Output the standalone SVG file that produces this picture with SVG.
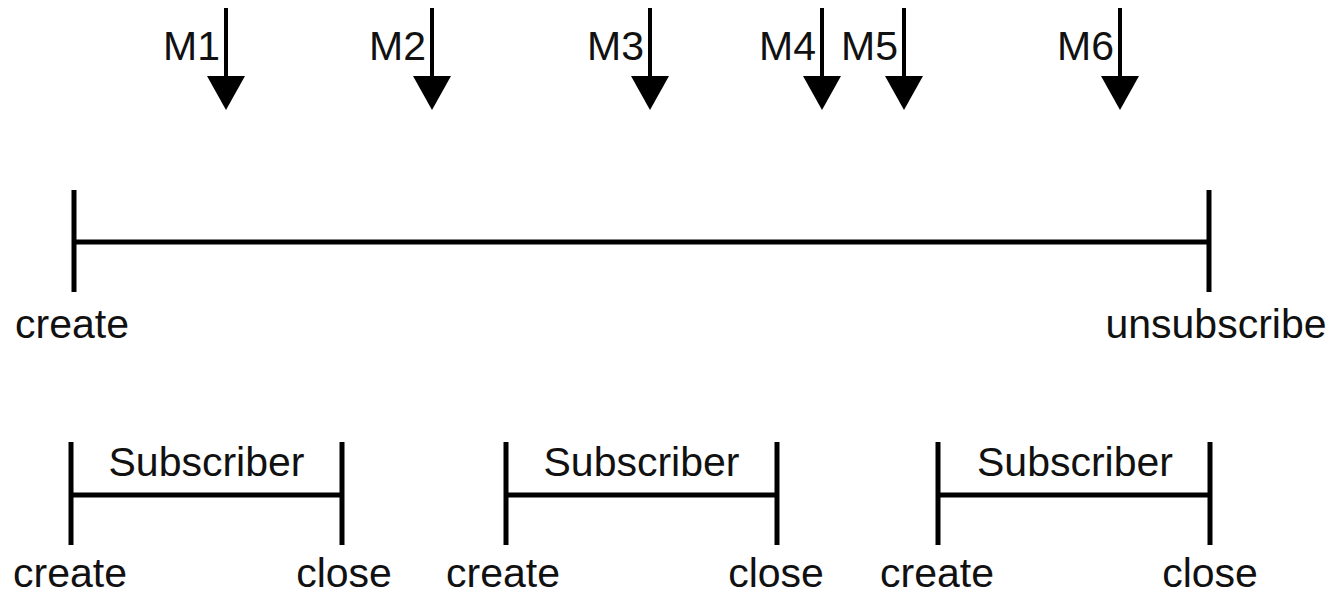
<svg xmlns="http://www.w3.org/2000/svg" width="1328" height="596" viewBox="0 0 1328 596">
<style>
.ln{stroke:#000;stroke-width:5;fill:none}
.sh{stroke:#000;stroke-width:4;fill:none}
.t{font-family:"Liberation Sans",Arial,sans-serif;font-size:41px;fill:#111}
.m{text-anchor:end}
.c{text-anchor:middle}
</style>
<defs>
<marker id="ah" markerUnits="userSpaceOnUse" viewBox="0 0 34 38" markerWidth="34" markerHeight="38" refX="0" refY="19" orient="auto">
<path d="M0,0 L34,19 L0,38 z" fill="#000"/>
</marker>
</defs>
<rect width="1328" height="596" fill="#fff"/>
<g id="connectors">
<path class="sh" d="M226,8 V76" marker-end="url(#ah)"/>
<path class="sh" d="M432,8 V76" marker-end="url(#ah)"/>
<path class="sh" d="M650,8 V76" marker-end="url(#ah)"/>
<path class="sh" d="M822,8 V76" marker-end="url(#ah)"/>
<path class="sh" d="M904,8 V76" marker-end="url(#ah)"/>
<path class="sh" d="M1120,8 V76" marker-end="url(#ah)"/>
</g>
<g id="messages">
<text class="t m" x="220" y="60">M1</text>
<text class="t m" x="426" y="60">M2</text>
<text class="t m" x="644" y="60">M3</text>
<text class="t m" x="816" y="60">M4</text>
<text class="t m" x="898" y="60">M5</text>
<text class="t m" x="1114" y="60">M6</text>
</g>
<g id="timeline">
<path class="ln" d="M74,190 V292 M1209,190 V292 M74,242 H1209"/>
<text class="t c" x="72" y="338">create</text>
<text class="t c" x="1216" y="338">unsubscribe</text>
</g>
<g id="subscriber1">
<path class="ln" d="M71,442 V545 M342,442 V545 M71,495 H342"/>
<text class="t c" x="206.5" y="476">Subscriber</text>
<text class="t c" x="70" y="587">create</text>
<text class="t c" x="344" y="587">close</text>
</g>
<g id="subscriber2">
<path class="ln" d="M506,442 V545 M777,442 V545 M506,495 H777"/>
<text class="t c" x="641.5" y="476">Subscriber</text>
<text class="t c" x="503" y="587">create</text>
<text class="t c" x="776" y="587">close</text>
</g>
<g id="subscriber3">
<path class="ln" d="M938,442 V545 M1210,442 V545 M938,495 H1210"/>
<text class="t c" x="1075" y="476">Subscriber</text>
<text class="t c" x="937" y="587">create</text>
<text class="t c" x="1210" y="587">close</text>
</g>
</svg>
